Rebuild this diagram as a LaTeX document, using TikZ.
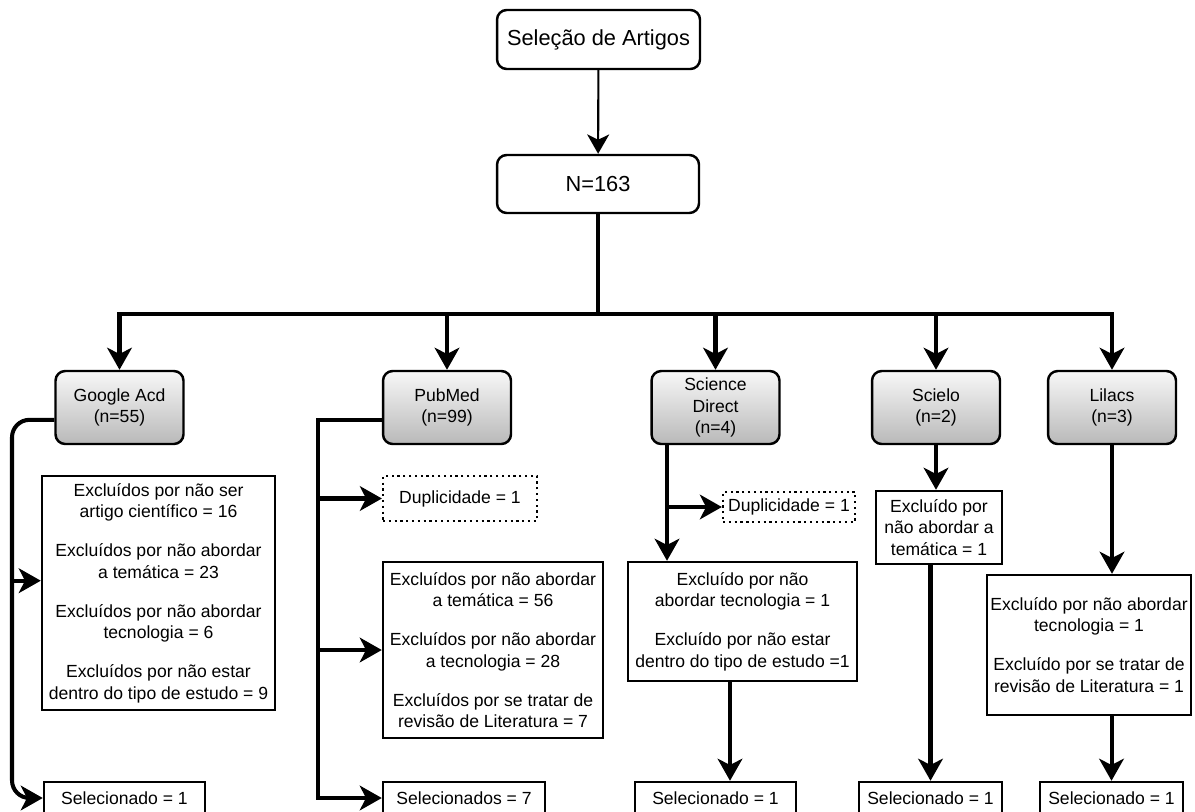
\documentclass[tikz,border=0pt]{standalone}
\usepackage{fontspec}
\setmainfont{Liberation Sans}
\usetikzlibrary{arrows.meta,calc}

\begin{document}
\begin{tikzpicture}[x=0.02cm,y=-0.02cm,
  font=\fontsize{10}{12.2}\selectfont,
  box/.style={draw,line width=1.4pt,align=center,inner sep=1pt},
  topbox/.style={box,rounded corners=5.5pt,font=\fontsize{12.4}{14}\selectfont},
  dbbox/.style={box,rounded corners=5.5pt,top color=gray!6,bottom color=gray!55,minimum width=2.56cm,minimum height=1.46cm},
  dupbox/.style={draw,dotted,line width=1.3pt,align=center,inner sep=1pt},
  selbox/.style={box,minimum height=0.64cm},
  link/.style={line width=2.3pt,-{Stealth[length=12.5pt,width=14pt,inset=3.5pt]}},
  bus/.style={line width=2.3pt,line cap=rect}]
  \useasboundingbox (0,0) rectangle (1195,811);
  % top of the flow
  \node[topbox,minimum width=4.06cm,minimum height=1.18cm] (sel) at (598.5,39.5) {Seleção de Artigos};
  \node[topbox,minimum width=4.04cm,minimum height=1.16cm] (total) at (598,184) {N=163};
  \draw[line width=1.2pt,-{Stealth[length=11pt,width=12.5pt,inset=3pt]}] (sel) -- (total);
  % databases
  \node[dbbox] (google) at (119.5,407.5) {Google Acd\\(n=55)};
  \node[dbbox] (pubmed) at (447,407.5) {PubMed\\(n=99)};
  \node[dbbox] (science) at (715.5,407.5) {Science\\Direct\\(n=4)};
  \node[dbbox] (scielo) at (936,407.5) {Scielo\\(n=2)};
  \node[dbbox] (lilacs) at (1112,407.5) {Lilacs\\(n=3)};
  \coordinate (bus) at (598,314);
  \draw[bus] (total) -- (bus);
  \draw[bus] (google |- bus) -- (lilacs |- bus);
  \foreach \db in {google,pubmed,science,scielo,lilacs}
    \draw[link] (\db |- bus) -- (\db);
  % exclusions
  \node[box,minimum width=4.66cm,minimum height=4.68cm] (gexc) at (158.5,593) {Excluídos por não ser\\artigo científico = 16\\[10pt]Excluídos por não abordar\\a temática = 23\\[10pt]Excluídos por não abordar\\tecnologia = 6\\[10pt]Excluídos por não estar\\dentro do tipo de estudo = 9};
  \node[dupbox,minimum width=3.08cm,minimum height=0.9cm] (pdup) at (460,498.5) {Duplicidade = 1};
  \node[box,minimum width=4.4cm,minimum height=3.52cm] (pexc) at (493,650) {Excluídos por não abordar\\a temática = 56\\[10pt]Excluídos por não abordar\\a tecnologia = 28\\[10pt]Excluídos por se tratar de\\revisão de Literatura = 7};
  \node[dupbox,minimum width=2.64cm,minimum height=0.6cm] (sdup) at (789,507) {Duplicidade = 1};
  \node[box,minimum width=4.58cm,minimum height=2.38cm] (sexc) at (742.5,621.5) {Excluído por não\\abordar tecnologia = 1\\[10pt]Excluído por não estar\\dentro do tipo de estudo =1};
  \node[box,minimum width=2.52cm,minimum height=1.46cm] (cexc) at (939,527.5) {Excluído por\\não abordar a\\temática = 1};
  \node[box,minimum width=4.08cm,minimum height=2.8cm] (lexc) at (1089,645) {Excluído por não abordar\\tecnologia = 1\\[10pt]Excluído por se tratar de\\revisão de Literatura = 1};
  % selected
  \node[selbox,minimum width=3.22cm] (gsel) at (124.5,798) {Selecionado = 1};
  \node[selbox,minimum width=3.24cm] (psel) at (464,798) {Selecionados = 7};
  \node[selbox,minimum width=3.22cm] (ssel) at (715.5,798) {Selecionado = 1};
  \node[selbox,minimum width=2.86cm] (csel) at (930.5,798) {Selecionado = 1};
  \node[selbox,minimum width=2.86cm] (lsel) at (1111.5,798) {Selecionado = 1};
  % Google Acd
  \coordinate (gsp) at (12,0);
  \coordinate (gexcin) at ([yshift=7pt]gexc.west);
  \draw[link,rounded corners=10pt] ([yshift=-7pt]google.west) -| (gsp |- gsel) -- (gsel);
  \draw[link] (gsp |- gexcin) -- (gexcin);
  % PubMed
  \coordinate (psp) at (318,0);
  \draw[link] ([yshift=-7pt]pubmed.west) -| (psp |- psel) -- (psel);
  \draw[link] (psp |- pdup) -- (pdup);
  \draw[link] (psp |- pexc) -- (pexc);
  % Science Direct
  \coordinate (ssp) at (667,0);
  \coordinate (sdown) at (730,0);
  \draw[link] (ssp |- science.south) -- (ssp |- sexc.north);
  \draw[link] (ssp |- sdup) -- (sdup);
  \draw[link] (sdown |- sexc.south) -- (sdown |- ssel.north);
  % Scielo
  \draw[link] (scielo.south) -- (scielo.south |- cexc.north);
  \draw[link] (csel.north |- cexc.south) -- (csel.north);
  % Lilacs
  \draw[link] (lilacs.south) -- (lilacs.south |- lexc.north);
  \draw[link] (lsel.north |- lexc.south) -- (lsel.north);
\end{tikzpicture}
\end{document}
